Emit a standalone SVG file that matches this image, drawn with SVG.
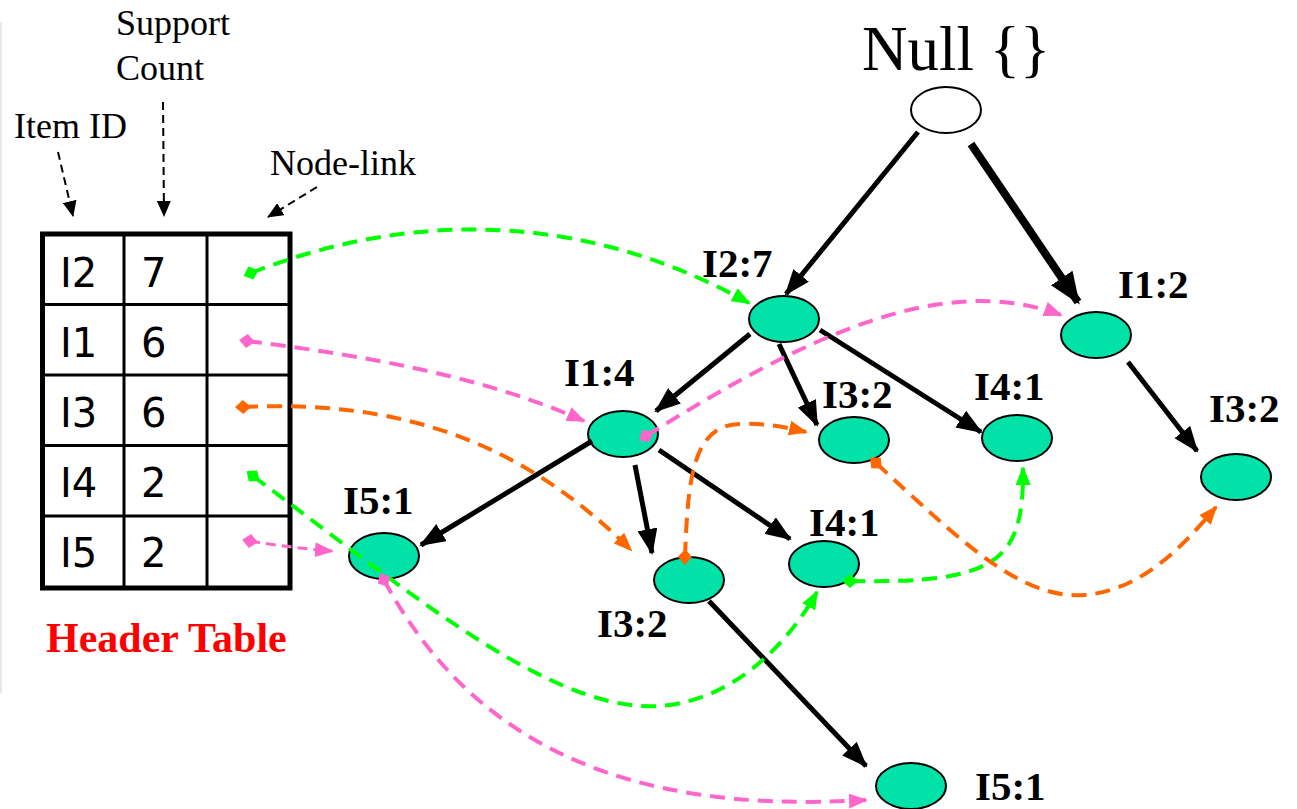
<svg xmlns="http://www.w3.org/2000/svg" width="1297" height="809" viewBox="0 0 1297 809">
<style>
.nd{fill:#00E2A8;stroke:#000;stroke-width:2}
.root{fill:#fff;stroke:#000;stroke-width:2}
.lbl{font-family:"Liberation Serif",serif;font-weight:bold;font-size:41px;fill:#000}
.ann{font-family:"Liberation Serif",serif;font-size:36px;fill:#000}
.cell{font-family:"DejaVu Sans",sans-serif;font-size:40px;fill:#000}
.tree{stroke:#000;stroke-width:5;fill:none;marker-end:url(#ab)}
.thick{stroke-width:8;marker-end:url(#abb)}
.annl{stroke:#000;stroke-width:2;stroke-dasharray:8 5;fill:none;marker-end:url(#ak)}
.lk{fill:none;stroke-width:4;stroke-dasharray:15 9}
.sm{stroke-width:3;stroke-dasharray:10 6}
.g{stroke:#00FF00;marker-start:url(#sg);marker-end:url(#eg)}
.p{stroke:#FF66CC;marker-start:url(#sp);marker-end:url(#ep)}
.o{stroke:#FF6600;marker-start:url(#so);marker-end:url(#eo)}
</style>
<defs>
<marker id="ab" markerUnits="userSpaceOnUse" markerWidth="26" markerHeight="20" viewBox="0 0 26 20" refX="24" refY="10" orient="auto"><path d="M0,0 L26,10 L0,20 Z" fill="#000"/></marker>
<marker id="abb" markerUnits="userSpaceOnUse" markerWidth="32" markerHeight="26" viewBox="0 0 32 26" refX="29" refY="13" orient="auto"><path d="M0,0 L32,13 L0,26 Z" fill="#000"/></marker>
<marker id="ak" markerUnits="userSpaceOnUse" markerWidth="16" markerHeight="14" viewBox="0 0 16 14" refX="15" refY="7" orient="auto"><path d="M0,0 L16,7 L0,14 Z" fill="#000"/></marker>
<marker id="eg" markerUnits="userSpaceOnUse" markerWidth="19" markerHeight="15" viewBox="0 0 19 15" refX="17" refY="7.5" orient="auto"><path d="M0,0 L19,7.5 L0,15 Z" fill="#00FF00"/></marker>
<marker id="ep" markerUnits="userSpaceOnUse" markerWidth="19" markerHeight="15" viewBox="0 0 19 15" refX="17" refY="7.5" orient="auto"><path d="M0,0 L19,7.5 L0,15 Z" fill="#FF66CC"/></marker>
<marker id="eo" markerUnits="userSpaceOnUse" markerWidth="19" markerHeight="15" viewBox="0 0 19 15" refX="17" refY="7.5" orient="auto"><path d="M0,0 L19,7.5 L0,15 Z" fill="#FF6600"/></marker>
<marker id="sg" markerUnits="userSpaceOnUse" markerWidth="18" markerHeight="18" viewBox="-9 -9 18 18" refX="0" refY="0" orient="auto"><path d="M-8,0 L0,-7 L8,0 L0,7 Z" fill="#00FF00"/></marker>
<marker id="sp" markerUnits="userSpaceOnUse" markerWidth="18" markerHeight="18" viewBox="-9 -9 18 18" refX="0" refY="0" orient="auto"><path d="M-8,0 L0,-7 L8,0 L0,7 Z" fill="#FF66CC"/></marker>
<marker id="so" markerUnits="userSpaceOnUse" markerWidth="18" markerHeight="18" viewBox="-9 -9 18 18" refX="0" refY="0" orient="auto"><path d="M-8,0 L0,-7 L8,0 L0,7 Z" fill="#FF6600"/></marker>
</defs>
<rect width="1297" height="809" fill="#fff"/>
<line x1="1" y1="22" x2="1" y2="693" stroke="#e8e8e8" stroke-width="2"/>

<g id="annotations">
<text class="ann" x="116" y="35">Support</text>
<text class="ann" x="116" y="80">Count</text>
<text class="ann" x="14" y="138">Item ID</text>
<text class="ann" x="270" y="175">Node-link</text>
<path class="annl" d="M58,152 L73,216"/>
<path class="annl" d="M163,102 L164,216"/>
<path class="annl" d="M317,187 L268,217"/>
</g>

<g id="header-table">
<rect x="42.5" y="234" width="247.5" height="354" fill="#fff" stroke="#000" stroke-width="5"/>
<g stroke="#000" stroke-width="3">
<line x1="124" y1="234" x2="124" y2="588"/>
<line x1="207" y1="234" x2="207" y2="588"/>
<line x1="42" y1="304.5" x2="290" y2="304.5"/>
<line x1="42" y1="375" x2="290" y2="375"/>
<line x1="42" y1="445.5" x2="290" y2="445.5"/>
<line x1="42" y1="516" x2="290" y2="516"/>
</g>
<text class="cell" x="60" y="287">I2</text><text class="cell" x="141" y="287">7</text>
<text class="cell" x="60" y="357">I1</text><text class="cell" x="141" y="357">6</text>
<text class="cell" x="60" y="427">I3</text><text class="cell" x="141" y="427">6</text>
<text class="cell" x="60" y="497">I4</text><text class="cell" x="141" y="497">2</text>
<text class="cell" x="60" y="567">I5</text><text class="cell" x="141" y="567">2</text>
<text x="46" y="652" font-family="Liberation Serif, serif" font-weight="bold" font-size="42" fill="#FF0000">Header Table</text>
</g>

<g id="root"><text x="862" y="70" font-family="Liberation Serif, serif" font-size="63" fill="#000">Null {}</text><ellipse class="root" cx="946" cy="110" rx="35" ry="23"/></g>
<g id="n-i2-7"><ellipse class="nd" cx="784" cy="319" rx="35" ry="23"/><text class="lbl" x="702" y="277">I2:7</text></g>
<g id="n-i1-2"><ellipse class="nd" cx="1096" cy="335" rx="35" ry="23"/><text class="lbl" x="1118" y="298">I1:2</text></g>
<g id="n-i1-4"><ellipse class="nd" cx="623" cy="434" rx="35" ry="23"/><text class="lbl" x="564" y="386">I1:4</text></g>
<g id="n-i3-2a"><ellipse class="nd" cx="854" cy="440" rx="35" ry="23"/><text class="lbl" x="822" y="408">I3:2</text></g>
<g id="n-i4-1a"><ellipse class="nd" cx="1017" cy="438" rx="35" ry="23"/><text class="lbl" x="974" y="400">I4:1</text></g>
<g id="n-i3-2c"><ellipse class="nd" cx="1236" cy="477" rx="35" ry="23"/><text class="lbl" x="1209" y="422">I3:2</text></g>
<g id="n-i5-1a"><ellipse class="nd" cx="384" cy="556" rx="35" ry="23"/><text class="lbl" x="343" y="514">I5:1</text></g>
<g id="n-i3-2b"><ellipse class="nd" cx="689" cy="580" rx="35" ry="23"/><text class="lbl" x="597" y="637">I3:2</text></g>
<g id="n-i4-1b"><ellipse class="nd" cx="824" cy="564" rx="35" ry="23"/><text class="lbl" x="809" y="536">I4:1</text></g>
<g id="n-i5-1b"><ellipse class="nd" cx="911" cy="786" rx="35" ry="23"/><text class="lbl" x="975" y="800">I5:1</text></g>

<g id="connectors">
<path class="tree" d="M918,132 L786,294"/>
<path class="tree thick" d="M971,144 L1078,302"/>
<path class="tree" d="M750,334 L656,411"/>
<path class="tree" d="M779,344 L817,425"/>
<path class="tree" d="M820,330 L981,432"/>
<path class="tree" d="M1128,362 L1197,451"/>
<path class="tree" d="M592,441 L421,545"/>
<path class="tree" d="M635,465 L652,553"/>
<path class="tree" d="M659,450 L790,539"/>
<path class="tree" d="M709,601 L866,766"/>

<path class="lk g" d="M251,273 C380,222 560,198 749,303"/>
<path class="lk g" d="M253,476 C420,600 560,720 670,705 C740,695 790,640 817,592"/>
<path class="lk g" d="M850,581 C1000,584 1024,560 1023,468"/>
<path class="lk p" d="M247,341 C360,355 480,375 584,421"/>
<path class="lk p" d="M646,436 C800,340 940,270 1061,315"/>
<path class="lk p sm" d="M250,541 C280,546 305,549 332,551"/>
<path class="lk p" d="M384,580 C470,740 620,815 866,800"/>
<path class="lk o" d="M243,407 C400,400 520,440 631,550"/>
<path class="lk o" d="M685,557 C688,480 692,425 740,424 C765,423 785,427 806,432"/>
<path class="lk o" d="M876,463 C960,540 1020,600 1085,595 C1140,590 1180,550 1216,507"/>
</g>
</svg>
